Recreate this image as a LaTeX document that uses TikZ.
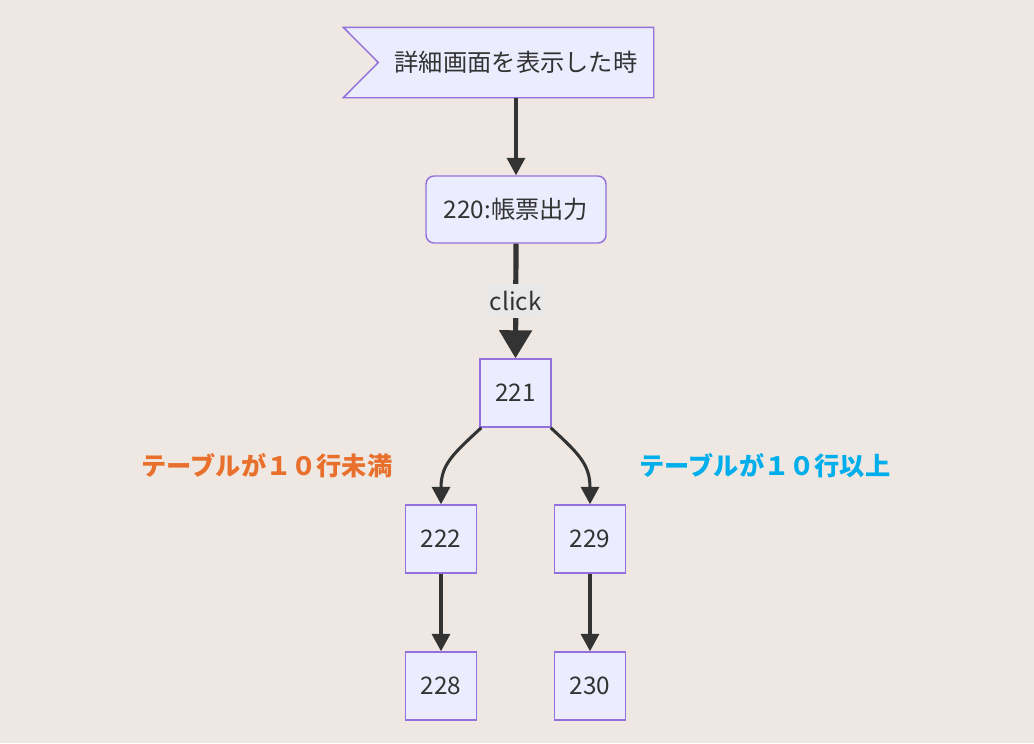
\documentclass[tikz,border=0pt]{standalone}
\usepackage{fontspec}
\setmainfont{Noto Sans CJK JP}
\usetikzlibrary{arrows.meta,calc}
\definecolor{bg}{RGB}{239,232,226}
\definecolor{nodefill}{RGB}{236,236,255}
\definecolor{nodeline}{RGB}{147,112,219}
\definecolor{ink}{RGB}{51,51,51}
\definecolor{lblbg}{RGB}{232,232,232}
\definecolor{orangelbl}{RGB}{232,112,44}
\definecolor{bluelbl}{RGB}{0,174,236}
\tikzset{
  box/.style={draw=nodeline, fill=nodefill, line width=1.1pt, text=ink, inner sep=0pt,
    font=\fontsize{18.2pt}{21pt}\selectfont},
  sq/.style={box, minimum width=71*0.75pt, minimum height=68*0.75pt},
  edge/.style={draw=ink, line width=2.3pt, -{Triangle[length=13pt,width=13.5pt]}},
  thickedge/.style={draw=ink, line width=3.9pt, -{Triangle[length=21pt,width=24pt]}},
  clicklbl/.style={fill=lblbg, text=ink, inner sep=0pt, minimum width=54*0.75pt, minimum height=34*0.75pt,
    font=\fontsize{18.2pt}{21pt}\selectfont},
  cond/.style={font=\fontsize{18.9pt}{22pt}\selectfont\bfseries, inner sep=0pt}
}
\begin{document}
\begin{tikzpicture}[x=0.75pt,y=-0.75pt]
\fill[bg] (0,0) rectangle (1034,743);
\useasboundingbox (0,0) rectangle (1034,743);
% flag node
\node[box, draw=none, fill=none, minimum width=274*0.75pt, minimum height=69*0.75pt] (start) at (516,62.5) {};
\filldraw[draw=nodeline, fill=nodefill, line width=1.1pt]
  ($(start.north west)+(-35,0)$) -- (start.north east) -- (start.south east)
  -- ($(start.south west)+(-35,0)$) -- (start.west) -- cycle;
\node[box, draw=none, fill=none] at (start.center) {詳細画面を表示した時};
% boxes
\node[box, rounded corners=6pt, minimum width=180*0.75pt, minimum height=67*0.75pt] (n220) at (516,209.5) {220:帳票出力};
\node[sq] (n221) at (515.5,393) {221};
\node[sq] (n222) at (441,539) {222};
\node[sq] (n229) at (590,539) {229};
\node[sq] (n228) at (441,686) {228};
\node[sq] (n230) at (590,686) {230};
% edges
\draw[edge] (start.south) -- (n220.north);
\draw[thickedge] (n220.south) -- node[clicklbl]{click} (n221.north);
\draw[edge] ($(n221.south west)+(2,0)$) .. controls +(-28,26) and +(0,-40) .. (n222.north);
\draw[edge] ($(n221.south east)+(-1,0)$) .. controls +(28,26) and +(0,-40) .. (n229.north);
\draw[edge] (n222.south) -- (n228.north);
\draw[edge] (n229.south) -- (n230.north);
% condition labels
\node[cond, text=orangelbl] (lblL) at (267,466) {テーブルが１０行未満};
\node[cond, text=bluelbl] (lblR) at (765,466) {テーブルが１０行以上};
\end{tikzpicture}
\end{document}
